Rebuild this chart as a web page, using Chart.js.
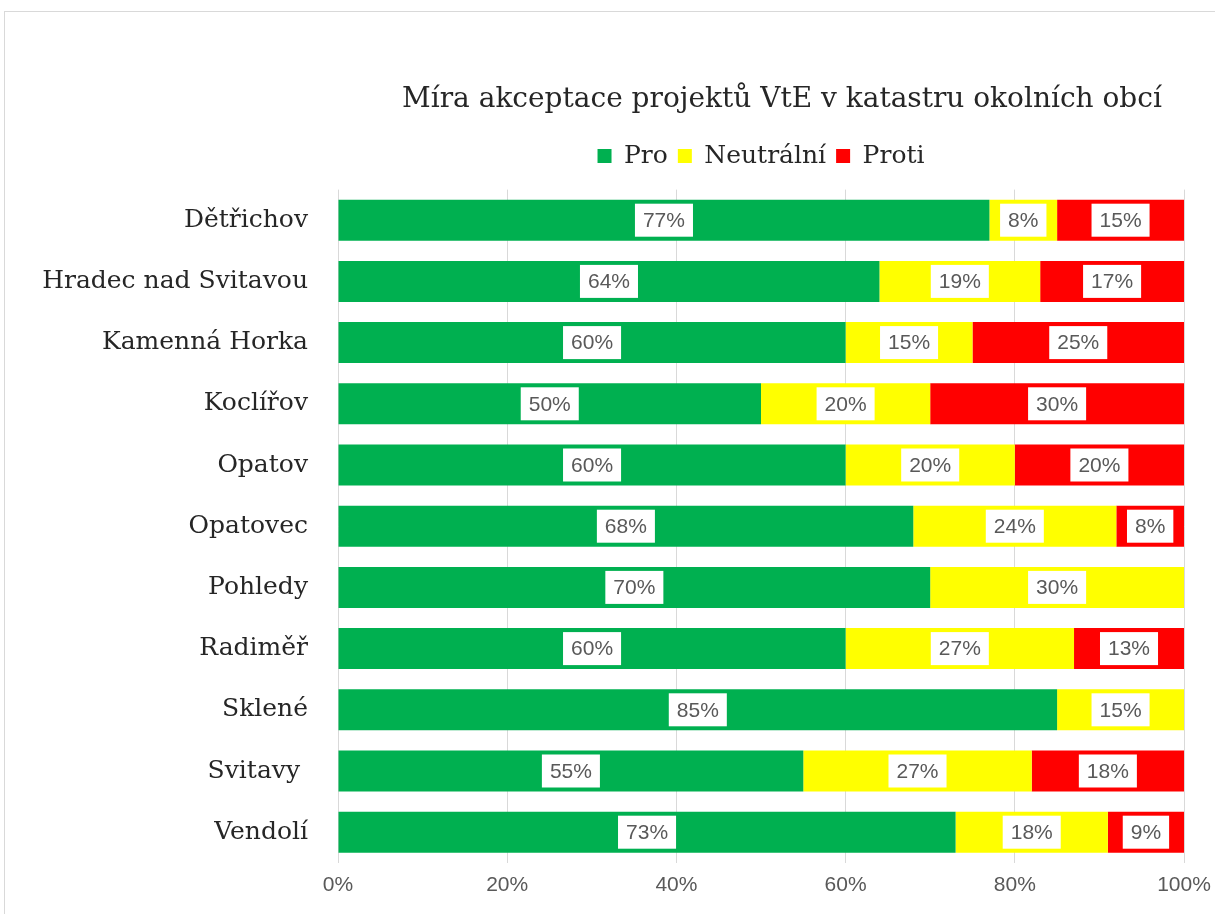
<!DOCTYPE html>
<html>
<head>
<meta charset="utf-8">
<script src="https://cdn.jsdelivr.net/npm/chart.js@4/dist/chart.umd.min.js"></script>
<style>
  body { margin: 0; background: #fff; overflow: hidden; }
  #frame { position: absolute; left: 4px; top: 11px; width: 1230px; height: 920px; border: 1px solid #d9d9d9; }
  #c { position: absolute; left: 0; top: 0; }
</style>
</head>
<body>
<div id="frame"></div>
<canvas id="c" width="1215" height="914"></canvas>
<script>
// DATA
const obce = ["Dětřichov", "Hradec nad Svitavou", "Kamenná Horka", "Koclířov", "Opatov", "Opatovec",
  "Pohledy", "Radiměř", "Sklené", "Svitavy ", "Vendolí"];
const pro = [77, 64, 60, 50, 60, 68, 70, 60, 85, 55, 73];
const neutralni = [8, 19, 15, 20, 20, 24, 30, 27, 15, 27, 18];
const proti = [15, 17, 25, 30, 20, 8, 0, 13, 0, 18, 9];
const xTicks = [0, 20, 40, 60, 80, 100];

const serif = "'DejaVu Serif', serif";
const sans = "'Liberation Sans', Arial, sans-serif";

// white boxes with the percentages
const valueBoxes = {
  id: "valueBoxes",
  afterDatasetsDraw(chart) {
    const ctx = chart.ctx;
    ctx.save();
    ctx.font = "21px " + sans;
    ctx.textAlign = "center";
    ctx.textBaseline = "middle";
    chart.data.datasets.forEach((ds, i) => {
      chart.getDatasetMeta(i).data.forEach((bar, j) => {
        const v = ds.data[j];
        if (!v) return;
        const txt = v + "%";
        const x = (bar.x + bar.base) / 2;
        const w = ctx.measureText(txt).width + 16;
        ctx.fillStyle = "#fff";
        ctx.fillRect(x - w / 2, bar.y - 16.5, w, 33);
        ctx.fillStyle = "#595959";
        ctx.fillText(txt, x, bar.y + 1);
      });
    });
    ctx.restore();
  }
};

// more room under the legend, title a bit to the right
const tweaks = {
  id: "tweaks",
  beforeInit(chart) {
    const lg = chart.legend;
    const fit = lg.fit;
    lg.fit = function () { fit.call(this); this.height += 11; };
  },
  afterLayout(chart) {
    chart.titleBlock.left += 21;
    chart.titleBlock.right += 21;
  }
};

new Chart(document.getElementById("c"), {
  type: "bar",
  data: {
    labels: obce,
    datasets: [
      { label: "Pro", data: pro, backgroundColor: "#00b050" },
      { label: "Neutrální", data: neutralni, backgroundColor: "#ffff00" },
      { label: "Proti", data: proti, backgroundColor: "#ff0000" }
    ]
  },
  options: {
    indexAxis: "y",
    responsive: false,
    animation: false,
    events: [],
    layout: { padding: { left: 0, right: 31, top: 0, bottom: 6 } },
    datasets: { bar: { barPercentage: 0.67, categoryPercentage: 1, borderWidth: 0 } },
    scales: {
      x: {
        stacked: true,
        min: 0, max: 100,
        afterBuildTicks: s => { s.ticks = xTicks.map(v => ({ value: v })); },
        afterFit: s => { s.paddingLeft = 0; s.paddingRight = 0; },
        grid: { color: "#d9d9d9", drawTicks: false },
        border: { display: false },
        ticks: { padding: 10, color: "#595959", font: { family: sans, size: 21 }, callback: v => v + "%" }
      },
      y: {
        stacked: true,
        grid: { display: false, drawTicks: false },
        border: { display: false },
        afterFit: s => { s.width = 338; },
        ticks: { padding: 30, color: "#262626", font: { family: serif, size: 25 } }
      }
    },
    plugins: {
      title: {
        display: true,
        fullSize: false,
        text: "Míra akceptace projektů VtE v katastru okolních obcí",
        color: "#262626",
        font: { family: serif, size: 28, weight: "normal" },
        padding: { top: 83, bottom: 17 }
      },
      legend: {
        fullSize: false,
        labels: { color: "#262626", boxWidth: 14, boxHeight: 14, padding: 10, font: { family: serif, size: 25 } }
      },
      tooltip: { enabled: false }
    }
  },
  plugins: [valueBoxes, tweaks]
});
</script>
</body>
</html>
